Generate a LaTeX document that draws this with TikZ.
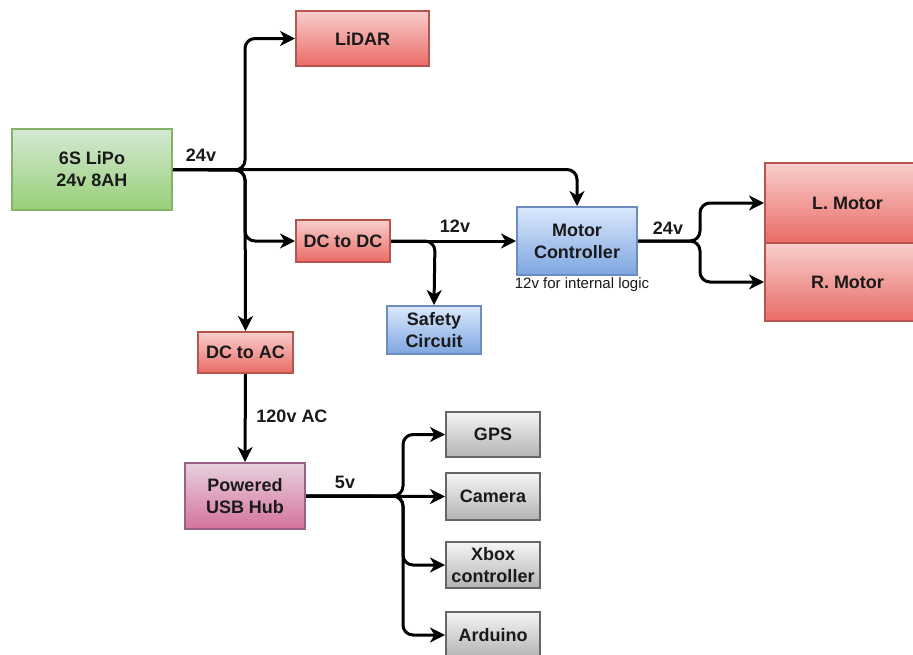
\documentclass[tikz,border=0pt]{standalone}
\usepackage{fontspec}
\setmainfont{Liberation Sans}
\usetikzlibrary{arrows.meta}
\definecolor{grnA}{HTML}{D5E8D4}\definecolor{grnB}{HTML}{97D077}\definecolor{grnS}{HTML}{82B366}
\definecolor{redA}{HTML}{F8CECC}\definecolor{redB}{HTML}{EA6B66}\definecolor{redS}{HTML}{B85450}
\definecolor{bluA}{HTML}{DAE8FC}\definecolor{bluB}{HTML}{7EA6E0}\definecolor{bluS}{HTML}{6C8EBF}
\definecolor{pnkA}{HTML}{E6D0DE}\definecolor{pnkB}{HTML}{D5739D}\definecolor{pnkS}{HTML}{996185}
\definecolor{gryA}{HTML}{F5F5F5}\definecolor{gryB}{HTML}{B3B3B3}\definecolor{gryS}{HTML}{666666}
\definecolor{txt}{HTML}{1A1A1A}
\tikzset{
  box/.style={rectangle, line width=2pt, inner sep=0pt, align=center,
    text=txt, font=\fontsize{18}{22}\selectfont\bfseries},
  greenbox/.style={box, top color=grnA, bottom color=grnB, draw=grnS},
  redbox/.style={box, top color=redA, bottom color=redB, draw=redS},
  bluebox/.style={box, top color=bluA, bottom color=bluB, draw=bluS},
  pinkbox/.style={box, top color=pnkA, bottom color=pnkB, draw=pnkS},
  graybox/.style={box, top color=gryA, bottom color=gryB, draw=gryS},
  wire/.style={line width=3pt, black, rounded corners=10pt,
    -{Stealth[length=15pt,width=15pt,inset=4.5pt]}},
  vlabel/.style={font=\fontsize{18}{22}\selectfont\bfseries, text=txt, inner sep=0pt},
  note/.style={font=\fontsize{15}{18}\selectfont, text=txt, inner sep=0pt}
}
\begin{document}
\begin{tikzpicture}[x=1pt,y=-1pt]
\useasboundingbox (0,0) rectangle (913,654);
\fill[white] (0,0) rectangle (913,654);
% nodes
\node[greenbox, minimum width=160pt, minimum height=81pt] (bat) at (92,169.5) {6S LiPo\\24v 8AH};
\node[redbox, minimum width=133pt, minimum height=55pt] (lidar) at (362.5,38.5) {LiDAR};
\node[redbox, minimum width=94pt, minimum height=42pt] (dcdc) at (343,241) {DC to DC};
\node[bluebox, minimum width=120pt, minimum height=68pt] (mc) at (577,241) {Motor\\Controller};
\node[bluebox, minimum width=94pt, minimum height=48pt] (safe) at (434,330) {Safety\\Circuit};
\node[redbox, minimum width=165pt, minimum height=80pt] (lm) at (847.5,203) {L. Motor};
\node[redbox, minimum width=165pt, minimum height=78pt] (rm) at (847.5,282) {R. Motor};
\node[redbox, minimum width=95pt, minimum height=41pt] (dcac) at (245.5,352.5) {DC to AC};
\node[pinkbox, minimum width=120pt, minimum height=66pt] (usb) at (245,496) {Powered\\USB Hub};
\node[graybox, minimum width=94pt, minimum height=45pt] (gps) at (493,434.5) {GPS};
\node[graybox, minimum width=94pt, minimum height=47pt] (cam) at (493,496.5) {Camera};
\node[graybox, minimum width=94pt, minimum height=46pt] (xbox) at (493,565) {Xbox\\controller};
\node[graybox, minimum width=94pt, minimum height=46pt] (ard) at (493,635) {Arduino};
% junctions
\coordinate (j1) at (245,170);
\coordinate (j2) at (700,241);
\coordinate (j3) at (403,496);
\coordinate (j4) at (435,241);
% connectors
\draw[wire] (bat.east) -- (j1) |- (lidar.west);
\draw[wire] (bat.east) -| (mc.north);
\draw[wire] (bat.east) -- (j1) |- (dcdc.west);
\draw[wire] (bat.east) -- (j1) -- (dcac.north);
\draw[wire] (dcdc.east) -- (mc.west);
\draw[wire] (dcdc.east) -- (j4) -- (safe.north);
\draw[wire] (mc.east) -- (j2) |- (lm.west);
\draw[wire] (mc.east) -- (j2) |- (rm.west);
\draw[wire] (dcac.south) -- (usb.north);
\draw[wire] (usb.east) -- (j3) |- (gps.west);
\draw[wire] (usb.east) -- (cam.west);
\draw[wire] (usb.east) -- (j3) |- (xbox.west);
\draw[wire] (usb.east) -- (j3) |- (ard.west);
% labels
\node[vlabel] (l24a) at (201,155) {24v};
\node[vlabel] (l12) at (455,226) {12v};
\node[vlabel] (l24b) at (668,228) {24v};
\node[vlabel] (l120) at (292,416) {120v AC};
\node[vlabel] (l5) at (345,482) {5v};
\node[note] (logic) at (582,285) {12v for internal logic};
\end{tikzpicture}
\end{document}
